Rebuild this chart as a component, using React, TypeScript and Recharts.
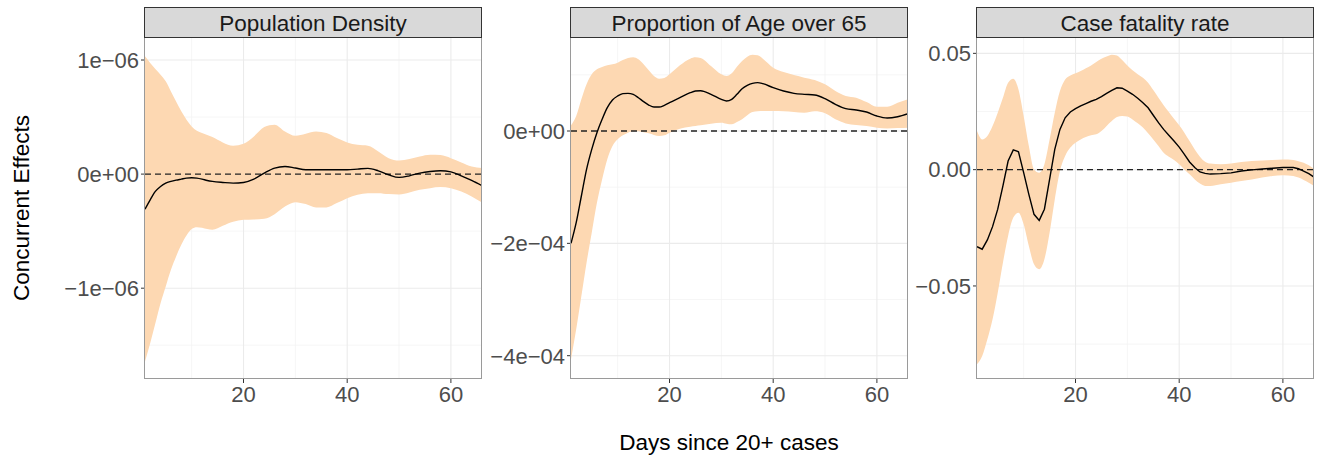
import React from "react";
import {
  ComposedChart,
  Area,
  Line,
  XAxis,
  YAxis,
  CartesianGrid,
  ReferenceLine,
} from "recharts";

const FONT = '"Liberation Sans", Arial, Helvetica, sans-serif';

// ---------- Shared axis values ----------
const xTicks = [20, 40, 60];
const xMinor = [10, 30, 50];
const xDomain = [1, 66];

// ---------- Panel 1: Population Density (values in units of 1e-6) ----------
const densityUnit = 1e-6;
const densityDays = [1, 2, 3, 4, 5, 6, 7, 8, 9, 10, 11, 12, 13, 14, 16, 18, 20, 22, 24, 26, 28, 30, 32, 34, 36, 38, 40, 42, 44, 46, 48, 50, 52, 54, 56, 58, 60, 62, 64, 66];
const densityEstimate = [-0.307, -0.225, -0.152, -0.108, -0.079, -0.064, -0.053, -0.044, -0.035, -0.032, -0.035, -0.044, -0.056, -0.064, -0.073, -0.079, -0.073, -0.044, 0.009, 0.053, 0.067, 0.053, 0.038, 0.038, 0.038, 0.038, 0.038, 0.044, 0.05, 0.029, -0.006, -0.029, -0.015, 0.009, 0.023, 0.029, 0.02, -0.015, -0.056, -0.102];
const densityUpper = [1.032, 0.974, 0.921, 0.871, 0.813, 0.725, 0.637, 0.55, 0.477, 0.418, 0.38, 0.36, 0.342, 0.325, 0.278, 0.249, 0.266, 0.33, 0.412, 0.433, 0.374, 0.336, 0.354, 0.374, 0.36, 0.316, 0.278, 0.257, 0.249, 0.199, 0.14, 0.12, 0.132, 0.155, 0.17, 0.167, 0.14, 0.102, 0.067, 0.053];
const densityLower = [-1.643, -1.482, -1.307, -1.132, -0.985, -0.839, -0.722, -0.62, -0.538, -0.482, -0.465, -0.471, -0.482, -0.488, -0.453, -0.418, -0.401, -0.398, -0.392, -0.351, -0.284, -0.246, -0.263, -0.292, -0.292, -0.254, -0.211, -0.181, -0.167, -0.167, -0.175, -0.178, -0.161, -0.137, -0.123, -0.114, -0.123, -0.152, -0.196, -0.249];
const densityTicks = [-1e-6, 0, 1e-6];
const densityTickLabels = ["\u22121e\u221206", "0e+00", "1e\u221206"];
const densityMinor = [-1.5e-6, -0.5e-6, 0.5e-6];
const densityDomain = [-1.796e-6, 1.193e-6];

// ---------- Panel 2: Proportion of Age over 65 (values in units of 1e-4) ----------
const ageUnit = 1e-4;
const ageDays = [1, 2, 3, 4, 5, 6, 7, 8, 9, 10, 11, 12, 13, 14, 15, 16, 17, 18, 19, 20, 22, 24, 25, 26, 28, 30, 31, 32, 33, 34, 35, 36, 37, 38, 40, 42, 44, 46, 48, 50, 52, 54, 56, 58, 60, 62, 64, 66];
const ageEstimate = [-2.0, -1.632, -1.157, -0.682, -0.326, -0.03, 0.208, 0.415, 0.552, 0.623, 0.665, 0.671, 0.653, 0.593, 0.522, 0.463, 0.427, 0.427, 0.457, 0.504, 0.593, 0.682, 0.712, 0.718, 0.653, 0.564, 0.534, 0.564, 0.653, 0.754, 0.813, 0.849, 0.861, 0.843, 0.772, 0.712, 0.671, 0.653, 0.641, 0.576, 0.475, 0.398, 0.374, 0.338, 0.267, 0.231, 0.255, 0.309];
const ageUpper = [0.101, 0.267, 0.564, 0.831, 1.009, 1.098, 1.139, 1.169, 1.187, 1.217, 1.264, 1.3, 1.312, 1.276, 1.187, 1.08, 0.979, 0.932, 0.944, 1.009, 1.169, 1.288, 1.312, 1.3, 1.157, 1.009, 0.979, 1.027, 1.145, 1.246, 1.323, 1.359, 1.347, 1.288, 1.128, 1.05, 0.997, 0.95, 0.908, 0.831, 0.712, 0.623, 0.593, 0.516, 0.433, 0.433, 0.504, 0.564];
const ageLower = [-4.065, -3.531, -2.938, -2.344, -1.81, -1.276, -0.861, -0.504, -0.267, -0.148, -0.077, -0.03, -0.006, -0.006, -0.024, -0.042, -0.071, -0.089, -0.077, -0.03, 0.042, 0.077, 0.089, 0.101, 0.131, 0.148, 0.131, 0.119, 0.16, 0.208, 0.279, 0.338, 0.35, 0.356, 0.356, 0.35, 0.338, 0.326, 0.35, 0.315, 0.208, 0.136, 0.107, 0.089, 0.059, 0.047, 0.053, 0.059];
const ageTicks = [-4e-4, -2e-4, 0];
const ageTickLabels = ["\u22124e\u221204", "\u22122e\u221204", "0e+00"];
const ageMinor = [-3e-4, -1e-4, 1e-4];
const ageDomain = [-4.415e-4, 1.656e-4];

// ---------- Panel 3: Case fatality rate (values in units of 0.01) ----------
const cfrUnit = 0.01;
const cfrDays = [1, 2, 3, 4, 5, 6, 7, 8, 9, 10, 11, 12, 13, 14, 15, 16, 17, 18, 19, 20, 21, 22, 23, 24, 25, 26, 27, 28, 29, 30, 31, 32, 33, 34, 35, 36, 37, 38, 39, 40, 41, 42, 43, 44, 45, 46, 48, 50, 52, 54, 56, 58, 60, 62, 63, 64, 65, 66];
const cfrEstimate = [-3.31, -3.42, -3.02, -2.45, -1.7, -0.7, 0.37, 0.85, 0.77, -0.13, -1.06, -1.92, -2.18, -1.7, -0.42, 0.87, 1.73, 2.23, 2.48, 2.62, 2.74, 2.84, 2.94, 3.02, 3.14, 3.28, 3.41, 3.52, 3.5, 3.38, 3.24, 3.07, 2.88, 2.66, 2.34, 2.02, 1.73, 1.48, 1.23, 0.97, 0.66, 0.33, 0.09, -0.1, -0.16, -0.19, -0.17, -0.14, -0.06, -0.01, 0.03, 0.06, 0.09, 0.09, 0.04, -0.06, -0.17, -0.32];
const cfrUpper = [1.66, 1.3, 1.45, 1.88, 2.45, 3.09, 3.74, 3.91, 3.45, 2.31, 1.02, 0.01, -0.13, 0.23, 1.3, 2.45, 3.38, 3.88, 4.05, 4.14, 4.24, 4.36, 4.48, 4.63, 4.77, 4.86, 4.94, 4.91, 4.71, 4.48, 4.27, 4.1, 3.95, 3.74, 3.42, 3.09, 2.77, 2.48, 2.19, 1.91, 1.59, 1.23, 0.87, 0.56, 0.34, 0.26, 0.23, 0.26, 0.33, 0.37, 0.39, 0.42, 0.44, 0.42, 0.36, 0.3, 0.19, 0.04];
const cfrLower = [-8.37, -8.01, -7.29, -6.43, -5.29, -4.0, -2.85, -2.06, -1.85, -2.35, -3.28, -4.07, -4.28, -3.85, -2.71, -1.28, -0.06, 0.59, 0.95, 1.16, 1.3, 1.4, 1.48, 1.52, 1.66, 1.88, 2.09, 2.26, 2.31, 2.28, 2.16, 1.99, 1.81, 1.56, 1.3, 1.02, 0.73, 0.56, 0.42, 0.23, 0.01, -0.2, -0.42, -0.6, -0.7, -0.7, -0.63, -0.56, -0.49, -0.42, -0.34, -0.27, -0.24, -0.27, -0.34, -0.44, -0.56, -0.7];
const cfrTicks = [-0.05, 0, 0.05];
const cfrTickLabels = ["\u22120.05", "0.00", "0.05"];
const cfrMinor = [-0.075, -0.025, 0.025];
const cfrDomain = [-0.09, 0.0566];

// ---------- Build tables ----------
function buildRows(days: number[], est: number[], lo: number[], hi: number[], unit: number) {
  return days.map((d, i) => ({
    day: d,
    est: est[i] * unit,
    band: [lo[i] * unit, hi[i] * unit],
  }));
}

// ---------- Layout / style ----------
const H = 458;
const PLOT_TOP = 38;
const PLOT_W = 337;
const PLOT_H = 341;
const RIBBON = "#FDD8B2";
const TICK_STYLE = { fontSize: 22, fill: "#4D4D4D", fontFamily: FONT };

type PanelDef = {
  title: string;
  rows: any[];
  domain: number[];
  ticks: number[];
  labels: string[];
  minor: number[];
  plotLeft: number;
  axisWidth: number;
  rightPad: number;
  lineType: "monotone" | "linear";
};

const panels: PanelDef[] = [
  {
    title: "Population Density",
    rows: buildRows(densityDays, densityEstimate, densityLower, densityUpper, densityUnit),
    domain: densityDomain,
    ticks: densityTicks,
    labels: densityTickLabels,
    minor: densityMinor,
    plotLeft: 145,
    axisWidth: 145,
    rightPad: 4,
    lineType: "monotone",
  },
  {
    title: "Proportion of Age over 65",
    rows: buildRows(ageDays, ageEstimate, ageLower, ageUpper, ageUnit),
    domain: ageDomain,
    ticks: ageTicks,
    labels: ageTickLabels,
    minor: ageMinor,
    plotLeft: 571,
    axisWidth: 86,
    rightPad: 4,
    lineType: "monotone",
  },
  {
    title: "Case fatality rate",
    rows: buildRows(cfrDays, cfrEstimate, cfrLower, cfrUpper, cfrUnit),
    domain: cfrDomain,
    ticks: cfrTicks,
    labels: cfrTickLabels,
    minor: cfrMinor,
    plotLeft: 977,
    axisWidth: 66,
    rightPad: 6,
    lineType: "linear",
  },
];

function Panel({ p }: { p: PanelDef }) {
  const width = p.axisWidth + PLOT_W + p.rightPad;
  const fmt = (v: number) => {
    const i = p.ticks.findIndex((t) => Math.abs(t - v) < 1e-12);
    return i >= 0 ? p.labels[i] : "";
  };
  return (
    <>
      <div style={{ position: "absolute", left: p.plotLeft - p.axisWidth, top: 0, width, height: H }}>
        <ComposedChart
          width={width}
          height={H}
          data={p.rows}
          margin={{ top: PLOT_TOP, right: p.rightPad, bottom: 49, left: 0 }}
        >
          <CartesianGrid
            stroke="#F4F4F4"
            strokeWidth={0.8}
            verticalValues={xMinor}
            horizontalValues={p.minor}
          />
          <CartesianGrid
            stroke="#EBEBEB"
            strokeWidth={1.1}
            verticalValues={xTicks}
            horizontalValues={p.ticks}
          />
          <XAxis
            dataKey="day"
            type="number"
            domain={xDomain}
            ticks={xTicks}
            interval={0}
            allowDataOverflow
            axisLine={false}
            tickLine={{ stroke: "#333333" }}
            tickSize={4}
            tickMargin={3}
            height={30}
            tick={TICK_STYLE}
          />
          <YAxis
            type="number"
            domain={p.domain}
            ticks={p.ticks}
            interval={0}
            allowDataOverflow
            axisLine={false}
            tickLine={{ stroke: "#333333" }}
            tickSize={4}
            tickMargin={2}
            width={p.axisWidth}
            tick={TICK_STYLE}
            tickFormatter={fmt}
          />
          <Area
            dataKey="band"
            type="monotone"
            stroke="none"
            fill={RIBBON}
            fillOpacity={1}
            isAnimationActive={false}
            activeDot={false}
          />
          <ReferenceLine y={0} stroke="#222222" strokeWidth={1.3} strokeDasharray="6 4" />
          <Line
            dataKey="est"
            type={p.lineType}
            stroke="#000000"
            strokeWidth={1.4}
            dot={false}
            activeDot={false}
            isAnimationActive={false}
          />
        </ComposedChart>
      </div>
      {/* panel border */}
      <div
        style={{
          position: "absolute",
          left: p.plotLeft - 1,
          top: PLOT_TOP - 1,
          width: PLOT_W + 1,
          height: PLOT_H + 1,
          border: "1px solid #9A9A9A",
          boxSizing: "border-box",
          pointerEvents: "none",
        }}
      />
      {/* strip */}
      <div
        style={{
          position: "absolute",
          left: p.plotLeft - 1,
          top: 7,
          width: PLOT_W + 1,
          height: 31,
          border: "1px solid #333333",
          boxSizing: "border-box",
          background: "#D9D9D9",
          color: "#1A1A1A",
          fontSize: 22.5,
          lineHeight: "31px",
          textAlign: "center",
          whiteSpace: "nowrap",
          fontFamily: FONT,
        }}
      >
        {p.title}
      </div>
    </>
  );
}

export default function App() {
  return (
    <div
      style={{
        position: "absolute",
        left: 0,
        top: 0,
        width: 1322,
        height: H,
        background: "#ffffff",
        fontFamily: FONT,
        overflow: "hidden",
      }}
    >
      {panels.map((p) => (
        <Panel key={p.title} p={p} />
      ))}
      <div
        style={{
          position: "absolute",
          left: 22,
          top: 208,
          transform: "translate(-50%, -50%) rotate(-90deg)",
          fontSize: 22.5,
          color: "#000000",
          whiteSpace: "nowrap",
          lineHeight: "24px",
        }}
      >
        Concurrent Effects
      </div>
      <div
        style={{
          position: "absolute",
          left: 729,
          top: 432,
          transform: "translateX(-50%)",
          fontSize: 22.5,
          color: "#000000",
          whiteSpace: "nowrap",
          lineHeight: "22px",
        }}
      >
        Days since 20+ cases
      </div>
    </div>
  );
}
